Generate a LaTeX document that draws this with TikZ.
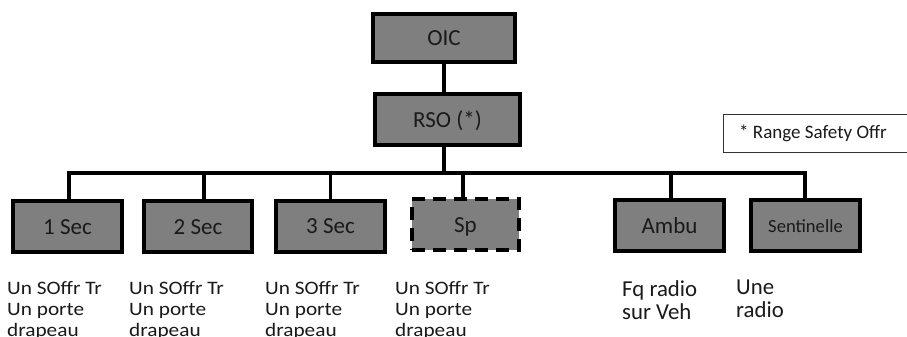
\documentclass[tikz,border=0pt]{standalone}
\usepackage{fontspec}
\setmainfont{Carlito}
\newfontfamily\widefont[FakeStretch=1.12]{Carlito}
\definecolor{boxgray}{HTML}{7F7F7F}
\definecolor{txt}{HTML}{1A1A1A}
\definecolor{legline}{HTML}{333333}
\begin{document}
\begin{tikzpicture}[x=1pt,y=-1pt,
  orgbox/.style={draw=black,line width=4pt,fill=boxgray,rectangle,inner sep=0pt,
    minimum width=108pt,minimum height=51pt,text=txt,text height=15pt,text depth=0pt,
    font=\fontsize{23}{26}\selectfont},
  dashbox/.style={orgbox,dash pattern=on 13pt off 8pt},
  link/.style={draw=black,line width=3.5pt},
  note/.style={anchor=north west,inner sep=0pt,align=left,text=txt,
    font=\widefont\fontsize{19}{21}\selectfont},
  bignote/.style={anchor=north west,inner sep=0pt,align=left,text=txt,
    font=\fontsize{22.8}{23}\selectfont}]
\useasboundingbox (0,0) rectangle (907,337);
\fill[white] (0,0) rectangle (907,337);
% boxes
\node[orgbox,minimum width=142pt,minimum height=48pt] (oic) at (444,38) {OIC};
\node[orgbox,minimum width=145pt,minimum height=51pt] (rso) at (447.5,119.5) {RSO (*)};
\node[orgbox,minimum width=109pt] (b1) at (67.5,226.5) {1 Sec};
\node[orgbox] (b2) at (198,226.5) {2 Sec};
\node[orgbox,minimum width=109pt] (b3) at (330.5,226) {3 Sec};
\node[dashbox,minimum width=107pt] (sp) at (465.5,224.5) {Sp};
\node[orgbox,minimum width=109pt] (amb) at (669.5,225.5) {Ambu};
\node[orgbox,minimum width=109pt,text height=14pt,font=\fontsize{18.6}{22}\selectfont] (sen) at (805.5,225.5) {Sentinelle};
% legend
\draw[legline,line width=1pt] (915,114) -- (723.5,114) -- (723.5,152) -- (915,152);
\node[anchor=west,inner sep=0pt,text=txt,font=\fontsize{19}{22}\selectfont] (leg) at (739,133) {* Range Safety Offr};
% connectors
\coordinate (bar) at (444,173);
\draw[link] (oic.south) -- (oic.south |- rso.north);
\draw[link] (rso.south -| oic.south) -- (bar);
\draw[link,line cap=rect] ([xshift=1.5pt]b1.north |- bar) -- ([xshift=-0.5pt]sen.north |- bar);
\draw[link] ([xshift=1.5pt]b1.north) -- ([xshift=1.5pt]b1.north |- bar);
\draw[link] ([xshift=6pt]b2.north) -- ([xshift=6pt]b2.north |- bar);
\draw[link] (b3.north) -- (b3.north |- bar);
\draw[link] ([xshift=-2.5pt]sp.north) -- ([xshift=-2.5pt]sp.north |- bar);
\draw[link] ([xshift=1.5pt]amb.north) -- ([xshift=1.5pt]amb.north |- bar);
\draw[link] ([xshift=-0.5pt]sen.north) -- ([xshift=-0.5pt]sen.north |- bar);
% notes
\node[note] (n1) at (7,281) {Un SOffr Tr\\Un porte\\drapeau};
\node[note] (n2) at (129,281) {Un SOffr Tr\\Un porte\\drapeau};
\node[note] (n3) at (265,281) {Un SOffr Tr\\Un porte\\drapeau};
\node[note] (n4) at (395,281) {Un SOffr Tr\\Un porte\\drapeau};
\node[bignote] (n5) at (622,280) {Fq radio\\sur Veh};
\node[bignote] (n6) at (736,280) {Une\\radio};
\end{tikzpicture}
\end{document}
